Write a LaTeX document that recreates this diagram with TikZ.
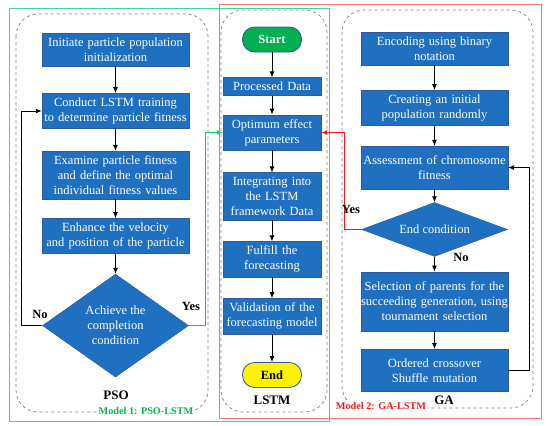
\documentclass[tikz,border=0pt]{standalone}
\usepackage{fontspec}
\setmainfont{Liberation Serif}
\usetikzlibrary{shapes.geometric,arrows.meta,positioning,calc}
\definecolor{boxblue}{RGB}{31,112,193}
\definecolor{boxedge}{RGB}{47,88,158}
\definecolor{startgreen}{RGB}{0,176,80}
\definecolor{modelgreen}{RGB}{70,212,150}
\definecolor{modelred}{RGB}{242,120,120}
\definecolor{yesgreen}{RGB}{30,195,110}
\definecolor{yesred}{RGB}{235,30,30}
\definecolor{labelgreen}{RGB}{0,185,80}

\begin{document}
\begin{tikzpicture}[x=1pt, y=-1pt,
    stepbox/.style={rectangle, draw=boxedge, fill=boxblue, text=white, align=center,
                    font=\fontsize{12.5}{15}\selectfont, inner xsep=0pt, inner ysep=4.5pt},
    widebox/.style={stepbox, text width=147pt},
    narrowbox/.style={stepbox, text width=98pt},
    decision/.style={diamond, draw=boxedge, fill=boxblue, text=white, align=center,
                     font=\fontsize{12.5}{15}\selectfont, inner sep=0pt},
    terminal/.style={rectangle, rounded corners=12pt, draw=boxedge, thick,
                     minimum width=59pt, minimum height=25pt, font=\fontsize{12.5}{14}\selectfont\bfseries},
    arrow/.style={-{Latex[length=6pt,width=5pt]}, line width=0.9pt},
    group/.style={draw=gray, dashed, line width=0.7pt, rounded corners=22pt},
    tag/.style={font=\fontsize{12.5}{14}\selectfont\bfseries, inner sep=1pt},
    title/.style={tag, font=\fontsize{13}{15}\selectfont\bfseries},
    node distance=20pt
]
\useasboundingbox (0,0) rectangle (550,426);

% model frames
\draw[modelgreen, line width=1pt] (9,8) rectangle (329,421);
\draw[modelred, line width=1pt] (219,4) rectangle (541,418);

% dashed groups
\draw[group] (16,14) rectangle (208,412);
\draw[group] (221,10) rectangle (327,412);
\draw[group] (342,10) rectangle (533,408);

% PSO
\node[widebox] (p1) at (115.5,49.5) {Initiate particle population\\initialization};
\node[widebox, below=27pt of p1] (p2) {Conduct LSTM training\\to determine particle fitness};
\node[widebox, below=22pt of p2] (p3) {Examine particle fitness\\and define the optimal\\individual fitness values};
\node[widebox, below=19pt of p3] (p4) {Enhance the velocity\\and position of the particle};
\node[decision, aspect=1.4, minimum width=146pt, minimum height=103pt, below=20pt of p4] (p5) {Achieve the\\completion\\condition};

% LSTM
\node[terminal, fill=startgreen, text=white] (start) at (272,39.5) {Start};
\node[narrowbox, below=25pt of start] (l1) {Processed Data};
\node[narrowbox, below=19pt of l1] (l2) {Optimum effect\\parameters};
\node[narrowbox, below=22pt of l2] (l3) {Integrating into\\the LSTM\\framework Data};
\node[narrowbox, below=21pt of l3] (l4) {Fulfill the\\forecasting};
\node[narrowbox, below=21pt of l4] (l5) {Validation of the\\forecasting model};
\node[terminal, fill=yellow, below=28pt of l5] (end) {End};

% GA
\node[widebox] (g1) at (434.5,48.5) {Encoding using binary\\notation};
\node[widebox, below=25pt of g1] (g2) {Creating an initial\\population randomly};
\node[widebox, minimum height=43pt, below=20pt of g2] (g3) {Assessment of chromosome\\fitness};
\node[decision, aspect=2.7, minimum width=146pt, minimum height=54pt, below=13pt of g3] (g4) {End condition};
\node[widebox, minimum height=59pt, below=15pt of g4] (g5) {Selection of parents for the\\succeeding generation, using\\tournament selection};
\node[widebox, minimum height=42pt, below=18pt of g5] (g6) {Ordered crossover\\Shuffle mutation};

\draw[arrow] (p1) -- (p2);
\draw[arrow] (p2) -- (p3);
\draw[arrow] (p3) -- (p4);
\draw[arrow] (p4) -- (p5);
\draw[arrow] (p5.west) -- ++(-21pt,0) |- (p2.west);
\draw[arrow, yesgreen] (p5.east) -- ++(17pt,0) |- (l2.west);

\draw[arrow] (start) -- (l1);
\draw[arrow] (l1) -- (l2);
\draw[arrow] (l2) -- (l3);
\draw[arrow] (l3) -- (l4);
\draw[arrow] (l4) -- (l5);
\draw[arrow] (l5) -- (end);

\draw[arrow] (g1) -- (g2);
\draw[arrow] (g2) -- (g3);
\draw[arrow] (g3) -- (g4);
\draw[arrow] (g4) -- (g5);
\draw[arrow] (g5) -- (g6);
\draw[arrow] (g6.east) -- ++(21pt,0) |- (g3.east);
\draw[arrow, yesred] (g4.west) -- ++(-17pt,0) |- (l2.east);

% labels
\node[tag] (pno) at (40,314) {No};
\node[tag] (pyes) at (191,306) {Yes};
\node[tag] (gyes) at (351,209) {Yes};
\node[tag] (gno) at (461,257) {No};
\node[title] (pso) at (116,395) {PSO};
\node[title] (lstm) at (272,400) {LSTM};
\node[title, fill=white] (ga) at (444,400) {GA};
\node[tag, fill=white, text=labelgreen, font=\fontsize{10.25}{12}\selectfont\bfseries] (m1) at (146,411) {Model 1: PSO-LSTM};
\node[tag, fill=white, text=yesred, font=\fontsize{10.25}{12}\selectfont\bfseries] (m2) at (381,406) {Model 2: GA-LSTM};
\end{tikzpicture}
\end{document}
